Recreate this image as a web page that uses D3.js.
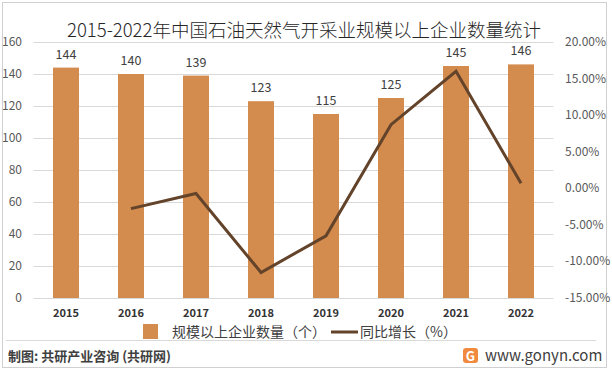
<!DOCTYPE html>
<html>
<head>
<meta charset="utf-8">
<script src="https://cdn.jsdelivr.net/npm/d3@7"></script>
<style>
  body { margin: 0; background: #fff; }
  svg { display: block; font-family: "Noto Sans CJK SC", "Noto Sans", sans-serif; }
</style>
</head>
<body>
<svg id="chart" width="612" height="372"></svg>
<script>
const years = ["2015", "2016", "2017", "2018", "2019", "2020", "2021", "2022"];
const companies = [144, 140, 139, 123, 115, 125, 145, 146];
const growth = [null, -2.78, -0.71, -11.51, -6.50, 8.70, 16.00, 0.69];
const leftTicks = [0, 20, 40, 60, 80, 100, 120, 140, 160];
const rightTicks = [-15, -10, -5, 0, 5, 10, 15, 20];

const svg = d3.select("#chart");

// outer frame
svg.append("rect")
  .attr("x", 2.5).attr("y", 2.5).attr("width", 604).attr("height", 365)
  .attr("fill", "none").attr("stroke", "#d0d0d0");

const x = d3.scaleBand().domain(years).range([33.5, 553.5]).paddingInner(0.6).paddingOuter(0.3);
const yL = d3.scaleLinear().domain([0, 160]).range([298, 42]);
const yR = d3.scaleLinear().domain([-15, 20]).range([298, 42]);

// gridlines
svg.append("g").selectAll("line").data(leftTicks).join("line")
  .attr("x1", 33.5).attr("x2", 553.5)
  .attr("y1", d => Math.round(yL(d)) + 0.5).attr("y2", d => Math.round(yL(d)) + 0.5)
  .attr("stroke", "#d9d9d9");

// left axis labels
svg.append("g").selectAll("text").data(leftTicks).join("text")
  .attr("x", 22).attr("y", d => yL(d) + 4)
  .attr("text-anchor", "end")
  .attr("font-size", 12).attr("fill", "#595959")
  .text(d => d);

// right axis labels
svg.append("g").selectAll("text").data(rightTicks).join("text")
  .attr("x", 565).attr("y", d => yR(d) + 4)
  .attr("font-size", 12).attr("fill", "#595959")
  .text(d => d.toFixed(2) + "%");

// bars
svg.append("g").selectAll("rect").data(companies).join("rect")
  .attr("x", (d, i) => x(years[i]))
  .attr("width", x.bandwidth())
  .attr("y", d => yL(d))
  .attr("height", d => yL(0) - yL(d))
  .attr("fill", "#D38B4E");

// bar value labels
svg.append("g").selectAll("text").data(companies).join("text")
  .attr("x", (d, i) => x(years[i]) + x.bandwidth() / 2)
  .attr("y", d => yL(d) - 9)
  .attr("text-anchor", "middle")
  .attr("font-size", 12.5).attr("fill", "#404040")
  .text(d => d);

// x labels
svg.append("g").selectAll("text").data(years).join("text")
  .attr("x", d => x(d) + x.bandwidth() / 2)
  .attr("y", 317)
  .attr("text-anchor", "middle")
  .attr("font-size", 11).attr("font-weight", "bold").attr("fill", "#333")
  .text(d => d);

// growth line
const line = d3.line()
  .defined(d => d != null)
  .x((d, i) => x(years[i]) + x.bandwidth() / 2)
  .y(d => yR(d));
svg.append("path").datum(growth)
  .attr("d", line)
  .attr("fill", "none").attr("stroke", "#63432A").attr("stroke-width", 3)
  .attr("stroke-linejoin", "miter");

// title
svg.append("text")
  .attr("x", 304).attr("y", 37)
  .attr("text-anchor", "middle")
  .attr("font-size", 18.5).attr("font-weight", 300).attr("fill", "#262626")
  .text("2015-2022年中国石油天然气开采业规模以上企业数量统计");

// legend
const lg = svg.append("g");
lg.append("rect").attr("x", 143).attr("y", 324).attr("width", 15).attr("height", 15).attr("fill", "#D38B4E");
lg.append("text").attr("x", 172).attr("y", 337).attr("font-size", 14).attr("fill", "#404040")
  .text("规模以上企业数量（个）");
lg.append("line").attr("x1", 331).attr("x2", 358).attr("y1", 332).attr("y2", 332)
  .attr("stroke", "#63432A").attr("stroke-width", 3);
lg.append("text").attr("x", 360).attr("y", 337).attr("font-size", 14).attr("fill", "#404040")
  .text("同比增长（%）");

// footer
svg.append("line").attr("x1", 6).attr("x2", 596).attr("y1", 340.5).attr("y2", 340.5)
  .attr("stroke", "#d9d9d9");
svg.append("text").attr("x", 8).attr("y", 361)
  .attr("font-size", 13).attr("font-weight", "bold").attr("fill", "#404040")
  .text("制图: 共研产业咨询 (共研网)");
const logo = svg.append("g").attr("transform", "translate(463,348)");
logo.append("rect").attr("width", 15).attr("height", 15).attr("rx", 3).attr("fill", "#F08A3E");
logo.append("text").attr("x", 7.5).attr("y", 12.5).attr("text-anchor", "middle")
  .attr("font-size", 13).attr("font-weight", "bold").attr("fill", "#fff").text("G");
svg.append("text").attr("x", 485).attr("y", 361)
  .attr("font-size", 15).attr("fill", "#404040")
  .text("www.gonyn.com");
</script>
</body>
</html>
